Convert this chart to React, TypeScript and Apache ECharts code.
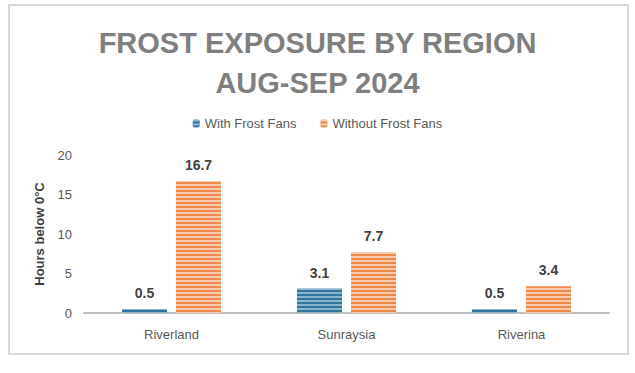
import React, { useEffect, useRef } from "react";
import * as echarts from "echarts";

const categories = ["Riverland", "Sunraysia", "Riverina"];
const withFans = [0.5, 3.1, 0.5];
const withoutFans = [16.7, 7.7, 3.4];
const seriesNames = ["With Frost Fans", "Without Frost Fans"];
const yTicks = { min: 0, max: 20, interval: 5 };

const stripe = (color: string) => ({
  symbol: "rect",
  symbolSize: 1,
  dashArrayX: [[1, 0]],
  dashArrayY: [2, 2],
  rotation: 0,
  color,
});

export default function App() {
  const ref = useRef<HTMLDivElement>(null);
  useEffect(() => {
    if (!ref.current) return;
    const chart = echarts.init(ref.current, undefined, { renderer: "svg" });
    chart.setOption({
      animation: false,
      backgroundColor: "#ffffff",
      title: {
        text: "FROST EXPOSURE BY REGION\nAUG-SEP 2024",
        left: "center",
        top: 18,
        textStyle: {
          fontFamily: "Liberation Sans, Arial, sans-serif",
          fontSize: 29,
          fontWeight: "bold",
          color: "#7f7f7f",
          lineHeight: 40,
        },
      },
      graphic: [
        {
          type: "rect",
          shape: { x: 9, y: 5, width: 619, height: 349 },
          style: { fill: "none", stroke: "#d9d9d9", lineWidth: 2 },
          silent: true,
        },
      ],
      legend: {
        data: seriesNames,
        top: 112,
        left: "center",
        itemWidth: 7,
        itemHeight: 8,
        itemGap: 24,
        textStyle: { fontSize: 13, color: "#595959", fontFamily: "Liberation Sans, Arial, sans-serif" },
      },
      grid: { left: 84, right: 26, top: 155, bottom: 60 },
      xAxis: {
        type: "category",
        data: categories,
        axisLine: { lineStyle: { color: "#bfbfbf", width: 2 } },
        axisTick: { show: false },
        axisLabel: { fontSize: 13, color: "#595959", margin: 15, fontFamily: "Liberation Sans, Arial, sans-serif" },
      },
      yAxis: {
        type: "value",
        min: yTicks.min,
        max: yTicks.max,
        interval: yTicks.interval,
        name: "Hours below 0°C",
        nameLocation: "middle",
        nameGap: 38,
        nameTextStyle: { fontSize: 13, fontWeight: "bold", color: "#404040", fontFamily: "Liberation Sans, Arial, sans-serif" },
        axisLine: { show: false },
        axisTick: { show: false },
        splitLine: { show: false },
        axisLabel: { fontSize: 13, color: "#595959", margin: 12, fontFamily: "Liberation Sans, Arial, sans-serif" },
      },
      series: [
        {
          name: seriesNames[0],
          type: "bar",
          data: withFans,
          barWidth: 45,
          barGap: "20%",
          itemStyle: { color: "#2e75a0", decal: stripe("rgba(255,255,255,0.45)") },
          label: {
            show: true,
            position: "top",
            distance: 9,
            fontSize: 14,
            fontWeight: "bold",
            color: "#404040",
            fontFamily: "Liberation Sans, Arial, sans-serif",
          },
        },
        {
          name: seriesNames[1],
          type: "bar",
          data: withoutFans,
          barWidth: 45,
          barGap: "20%",
          itemStyle: { color: "#f08a4b", decal: stripe("rgba(255,255,255,0.55)") },
          label: {
            show: true,
            position: "top",
            distance: 9,
            fontSize: 14,
            fontWeight: "bold",
            color: "#404040",
            fontFamily: "Liberation Sans, Arial, sans-serif",
          },
        },
      ],
    });
    return () => chart.dispose();
  }, []);
  return (
    <div
      ref={ref}
      style={{ position: "absolute", left: 0, top: 0, width: 635, height: 373 }}
    />
  );
}
